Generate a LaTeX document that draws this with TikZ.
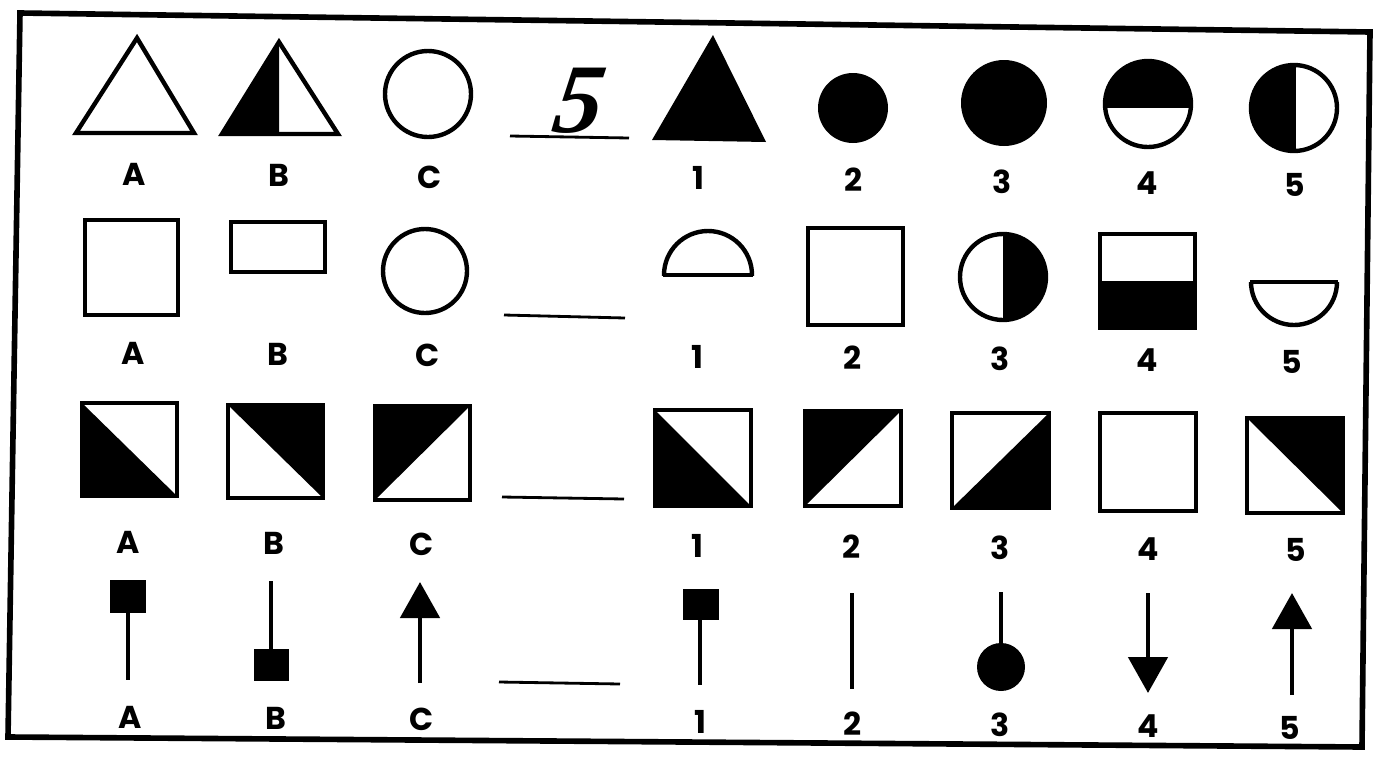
\documentclass[tikz,border=0pt]{standalone}
\usepackage{fontspec}
\setmainfont{Poppins}
\newfontfamily\handfont{Liberation Serif}
\usepackage{tikz}
\usetikzlibrary{arrows.meta}
\tikzset{
  fig/.style={line width=2.5pt,line join=miter},
  stem/.style={line width=2.8pt},
  blank/.style={line width=1.6pt},
  frame/.style={line width=3.2pt,line join=miter},
  lbl/.style={font=\fontsize{18}{18}\selectfont\bfseries,inner sep=0pt},
  uparrow/.style={stem,-{Triangle[length=7.2mm,width=7.8mm]}},
}

\begin{document}
\begin{tikzpicture}[x=0.02cm,y=-0.02cm]
  \useasboundingbox (0,0) rectangle (1374,758);
  % frame of the test sheet
  \draw[frame] (20,13) -- (1370,32) -- (1362,747) -- (8,737) -- cycle;

  % row 1
  \draw[fig] (76,133) -- (194,133) -- (137,38) -- cycle;
  \fill (222,134) -- (279,134) -- (279,42) -- cycle;
  \draw[fig] (222,134) -- (338,134) -- (279,42) -- cycle;
  \draw[fig] (428,94) circle[radius=43];
  \draw[blank] (510,136) -- (629,138);
  \node[font=\handfont\bfseries\itshape\fontsize{56}{56}\selectfont,inner sep=0pt,xslant=0.15] (ans) at (580,101) {5};
  \fill (652,140) -- (766,142) -- (713,35) -- cycle;
  \fill (853,108) circle[radius=35];
  \fill (1004,103) circle[radius=43];
  \begin{scope}
    \clip (1100,55) rectangle (1200,107);
    \fill (1148,104) circle[radius=43];
  \end{scope}
  \draw[fig] (1148,104) circle[radius=43];
  \begin{scope}
    \clip (1245,60) rectangle (1294,155);
    \fill (1294,108) circle[radius=43];
  \end{scope}
  \draw[fig] (1294,108) circle[radius=43];
  \draw[fig] (1294,65) -- (1294,151);

  % row 2
  \draw[fig] (85,220) rectangle (178,315);
  \draw[fig] (231,222) rectangle (325,272);
  \draw[fig] (425,271) circle[radius=42];
  \draw[blank] (504,315) -- (625,318);
  \begin{scope}
    \clip (660,228) rectangle (756,275);
    \draw[fig] (708,275) circle[radius=44];
  \end{scope}
  \draw[fig] (663,275) -- (753,275);
  \draw[fig] (808,228) rectangle (903,325);
  \begin{scope}
    \clip (1003,230) rectangle (1050,325);
    \fill (1003,277) circle[radius=43];
  \end{scope}
  \draw[fig] (1003,277) circle[radius=43];
  \fill (1100,281) rectangle (1195,328);
  \draw[fig] (1100,234) rectangle (1195,328);
  \begin{scope}
    \clip (1248,282) rectangle (1340,330);
    \draw[fig] (1294,282) circle[radius=43];
  \end{scope}
  \draw[fig] (1250,282) -- (1338,282);

  % row 3
  \fill (82,403) -- (177,496) -- (82,496) -- cycle;
  \draw[fig] (82,403) rectangle (177,496);
  \fill (228,405) -- (323,405) -- (323,498) -- cycle;
  \draw[fig] (228,405) rectangle (323,498);
  \fill (375,406) -- (470,406) -- (375,500) -- cycle;
  \draw[fig] (375,406) rectangle (470,500);
  \draw[blank] (502,497) -- (624,499);
  \fill (655,410) -- (751,506) -- (655,506) -- cycle;
  \draw[fig] (655,410) rectangle (751,506);
  \fill (805,411) -- (901,411) -- (805,506) -- cycle;
  \draw[fig] (805,411) rectangle (901,506);
  \fill (1049,413) -- (1049,508) -- (952,508) -- cycle;
  \draw[fig] (952,413) rectangle (1049,508);
  \draw[fig] (1100,413) rectangle (1196,511);
  \fill (1247,418) -- (1343,418) -- (1343,513) -- cycle;
  \draw[fig] (1247,418) rectangle (1343,513);

  % row 4
  \draw[stem] (128,613) -- (128,680);
  \fill (110,580) rectangle (146,613);
  \draw[stem] (271,581) -- (271,649);
  \fill (254,649) rectangle (289,681);
  \draw[uparrow] (420,683) -- (420,582);
  \draw[blank] (499,682) -- (620,684);
  \draw[stem] (700,620) -- (700,685);
  \fill (683,589) rectangle (719,620);
  \draw[stem] (852,593) -- (852,689);
  \draw[stem] (1001,592) -- (1001,650);
  \fill (1001,667) circle[radius=24];
  \draw[uparrow] (1148,593) -- (1148,693);
  \draw[uparrow] (1292,695) -- (1292,593);

  % labels
  \node[lbl] (lA1) at (134,174) {A};
  \node[lbl] (lB1) at (279,175) {B};
  \node[lbl] (lC1) at (430,177) {C};
  \node[lbl] (l11) at (698,178) {1};
  \node[lbl] (l21) at (854,180) {2};
  \node[lbl] (l31) at (1002,182) {3};
  \node[lbl] (l41) at (1147,183) {4};
  \node[lbl] (l51) at (1295,185) {5};

  \node[lbl] (lA2) at (133,353) {A};
  \node[lbl] (lB2) at (278,354) {B};
  \node[lbl] (lC2) at (428,355) {C};
  \node[lbl] (l12) at (697,357) {1};
  \node[lbl] (l22) at (853,358) {2};
  \node[lbl] (l32) at (1000,359) {3};
  \node[lbl] (l42) at (1147,360) {4};
  \node[lbl] (l52) at (1292,362) {5};

  \node[lbl] (lA3) at (128,542) {A};
  \node[lbl] (lB3) at (274,543) {B};
  \node[lbl] (lC3) at (422,544) {C};
  \node[lbl] (l13) at (697,546) {1};
  \node[lbl] (l23) at (852,547) {2};
  \node[lbl] (l33) at (1000,548) {3};
  \node[lbl] (l43) at (1148,549) {4};
  \node[lbl] (l53) at (1296,550) {5};

  \node[lbl] (lA4) at (130,717) {A};
  \node[lbl] (lB4) at (276,718) {B};
  \node[lbl] (lC4) at (422,719) {C};
  \node[lbl] (l14) at (700,722) {1};
  \node[lbl] (l24) at (853,724) {2};
  \node[lbl] (l34) at (1000,725) {3};
  \node[lbl] (l44) at (1148,726) {4};
  \node[lbl] (l54) at (1290,728) {5};
\end{tikzpicture}
\end{document}
